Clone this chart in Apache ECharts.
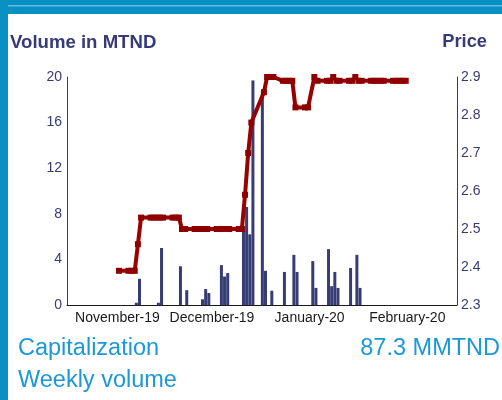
<!DOCTYPE html>
<html><head><meta charset="utf-8">
<script src="https://cdn.jsdelivr.net/npm/echarts@6/dist/echarts.min.js"></script>
<style>html,body{margin:0;padding:0;background:#fff;overflow:hidden}#c{width:502px;height:400px}</style>
</head><body><div id="c"></div>
<script>
// ---- data ----
const monthNames = ['January','February','March','April','May','June','July','August','September','October','November','December'];

// daily traded volume (MTND)
const volumeDates = ['2019-11-07','2019-11-08','2019-11-14','2019-11-15','2019-11-21','2019-11-23','2019-11-28','2019-11-29','2019-11-30',
  '2019-12-04','2019-12-05','2019-12-06','2019-12-11','2019-12-12','2019-12-13','2019-12-14','2019-12-17','2019-12-18','2019-12-20',
  '2019-12-24','2019-12-27','2019-12-28','2020-01-02','2020-01-03','2020-01-07','2020-01-08','2020-01-09','2020-01-10','2020-01-14',
  '2020-01-16','2020-01-17'];
const volumeValues = [0.2,2.3,0.2,5.0,3.4,1.3,0.5,1.4,1.05,
  3.5,2.5,2.8,6.9,8.6,6.2,19.7,18.6,3.0,1.25,
  2.9,4.4,2.9,3.85,1.5,4.9,1.65,2.9,1.5,3.25,
  4.4,1.5];

// daily closing price (TND)
const priceDates = ['2019-11-01','2019-11-04','2019-11-05','2019-11-06','2019-11-07','2019-11-08',
  '2019-11-11','2019-11-12','2019-11-13','2019-11-14','2019-11-15','2019-11-18','2019-11-19','2019-11-20',
  '2019-11-21','2019-11-22','2019-11-25','2019-11-26','2019-11-27','2019-11-28','2019-11-29',
  '2019-12-02','2019-12-03','2019-12-04','2019-12-05','2019-12-06','2019-12-09','2019-12-10',
  '2019-12-11','2019-12-12','2019-12-13','2019-12-17','2019-12-18','2019-12-19','2019-12-20',
  '2019-12-23','2019-12-24','2019-12-25','2019-12-26','2019-12-27','2019-12-30','2019-12-31',
  '2020-01-02','2020-01-03','2020-01-06','2020-01-07','2020-01-08','2020-01-09','2020-01-10',
  '2020-01-13','2020-01-14','2020-01-15','2020-01-16','2020-01-17','2020-01-20','2020-01-21',
  '2020-01-22','2020-01-23','2020-01-24','2020-01-27','2020-01-28','2020-01-29','2020-01-30','2020-01-31'];
const priceValues = [2.39,2.39,2.39,2.39,2.46,2.53,
  2.53,2.53,2.53,2.53,2.53,2.53,2.53,2.53,
  2.50,2.50,2.50,2.50,2.50,2.50,2.50,
  2.50,2.50,2.50,2.50,2.50,2.50,2.50,
  2.59,2.70,2.78,2.86,2.90,2.90,2.90,
  2.89,2.89,2.89,2.89,2.82,2.82,2.82,
  2.90,2.89,2.89,2.89,2.90,2.89,2.89,
  2.89,2.89,2.90,2.89,2.89,2.89,2.89,
  2.89,2.89,2.89,2.89,2.89,2.89,2.89,2.89];

const volumeTicks = {min: 0, max: 20, step: 4};
const priceTicks = {min: 2.3, max: 2.9, step: 0.1};
const capitalization = '87.3 MMTND';

// ---- helpers ----
function toTime(s, hour) {
  const p = s.split('-').map(Number);
  return new Date(p[0], p[1] - 1, p[2], hour || 0).getTime();
}
const barData = volumeDates.map((d, i) => [toTime(d), volumeValues[i]]);
const lineData = priceDates.map((d, i) => [toTime(d, 12), priceValues[i]]);

const navy = '#363b78';
const font = 'Liberation Sans, Arial, sans-serif';
const chart = echarts.init(document.getElementById('c'), null, {renderer: 'canvas'});
chart.setOption({
  animation: false,
  backgroundColor: '#ffffff',
  textStyle: {fontFamily: font},
  title: [
    {text: 'Volume in MTND', left: 10, top: 33, padding: 0,
     textStyle: {fontSize: 18.6, fontWeight: 'bold', color: navy, fontFamily: font}},
    {text: 'Price', right: 15, top: 33, padding: 0,
     textStyle: {fontSize: 18.3, fontWeight: 'bold', color: navy, fontFamily: font}},
    {text: 'Capitalization', left: 18, top: 337, padding: 0,
     textStyle: {fontSize: 23.5, fontWeight: 'normal', color: '#1b98d5', fontFamily: font}},
    {text: capitalization, right: 2, top: 337, padding: 0,
     textStyle: {fontSize: 23.5, fontWeight: 'normal', color: '#1b98d5', fontFamily: font}},
    {text: 'Weekly volume', left: 18, top: 369, padding: 0,
     textStyle: {fontSize: 23.5, fontWeight: 'normal', color: '#1b98d5', fontFamily: font}}
  ],
  graphic: [
    {type: 'rect', shape: {x: 0, y: 0, width: 502, height: 14}, style: {fill: '#0891c2'}, silent: true},
    {type: 'rect', shape: {x: 0, y: 5, width: 502, height: 1.5}, style: {fill: '#63bde2'}, silent: true},
    {type: 'rect', shape: {x: 0, y: 0, width: 8, height: 400}, style: {fill: '#0891c2'}, silent: true}
  ],
  grid: {left: 67, right: 45, top: 77, bottom: 95, containLabel: false},
  xAxis: {
    type: 'time',
    min: new Date(2019, 9, 16, 11, 12).getTime(),
    max: new Date(2020, 1, 16, 7, 12).getTime(),
    splitNumber: 4,
    axisLine: {show: true, lineStyle: {color: '#1a1a1a', width: 1}},
    axisTick: {show: false},
    splitLine: {show: false},
    axisLabel: {
      color: '#1a1a1a', fontSize: 14, margin: 6, fontFamily: font,
      formatter: function (v) {
        const d = new Date(v);
        return monthNames[d.getMonth()] + '-' + String(d.getFullYear()).slice(2);
      }
    }
  },
  yAxis: [
    {type: 'value', position: 'left', min: volumeTicks.min, max: volumeTicks.max, interval: volumeTicks.step,
     axisLine: {show: true, lineStyle: {color: navy, width: 1}},
     axisTick: {show: false}, splitLine: {show: false},
     axisLabel: {color: navy, fontSize: 14, margin: 5, fontFamily: font}},
    {type: 'value', position: 'right', min: priceTicks.min, max: priceTicks.max, interval: priceTicks.step,
     axisLine: {show: true, lineStyle: {color: navy, width: 1}},
     axisTick: {show: false}, splitLine: {show: false},
     axisLabel: {color: navy, fontSize: 14, margin: 4, fontFamily: font,
       formatter: v => v.toFixed(1)}}
  ],
  series: [
    {type: 'bar', yAxisIndex: 0, data: barData, barWidth: 3, barGap: '0%',
     itemStyle: {color: '#363c74'}, z: 2},
    {type: 'line', yAxisIndex: 1, data: lineData, symbol: 'rect', symbolSize: 6, showSymbol: true,
     lineStyle: {color: '#990000', width: 4}, itemStyle: {color: '#8e0000'}, z: 3}
  ]
});
</script></body></html>
